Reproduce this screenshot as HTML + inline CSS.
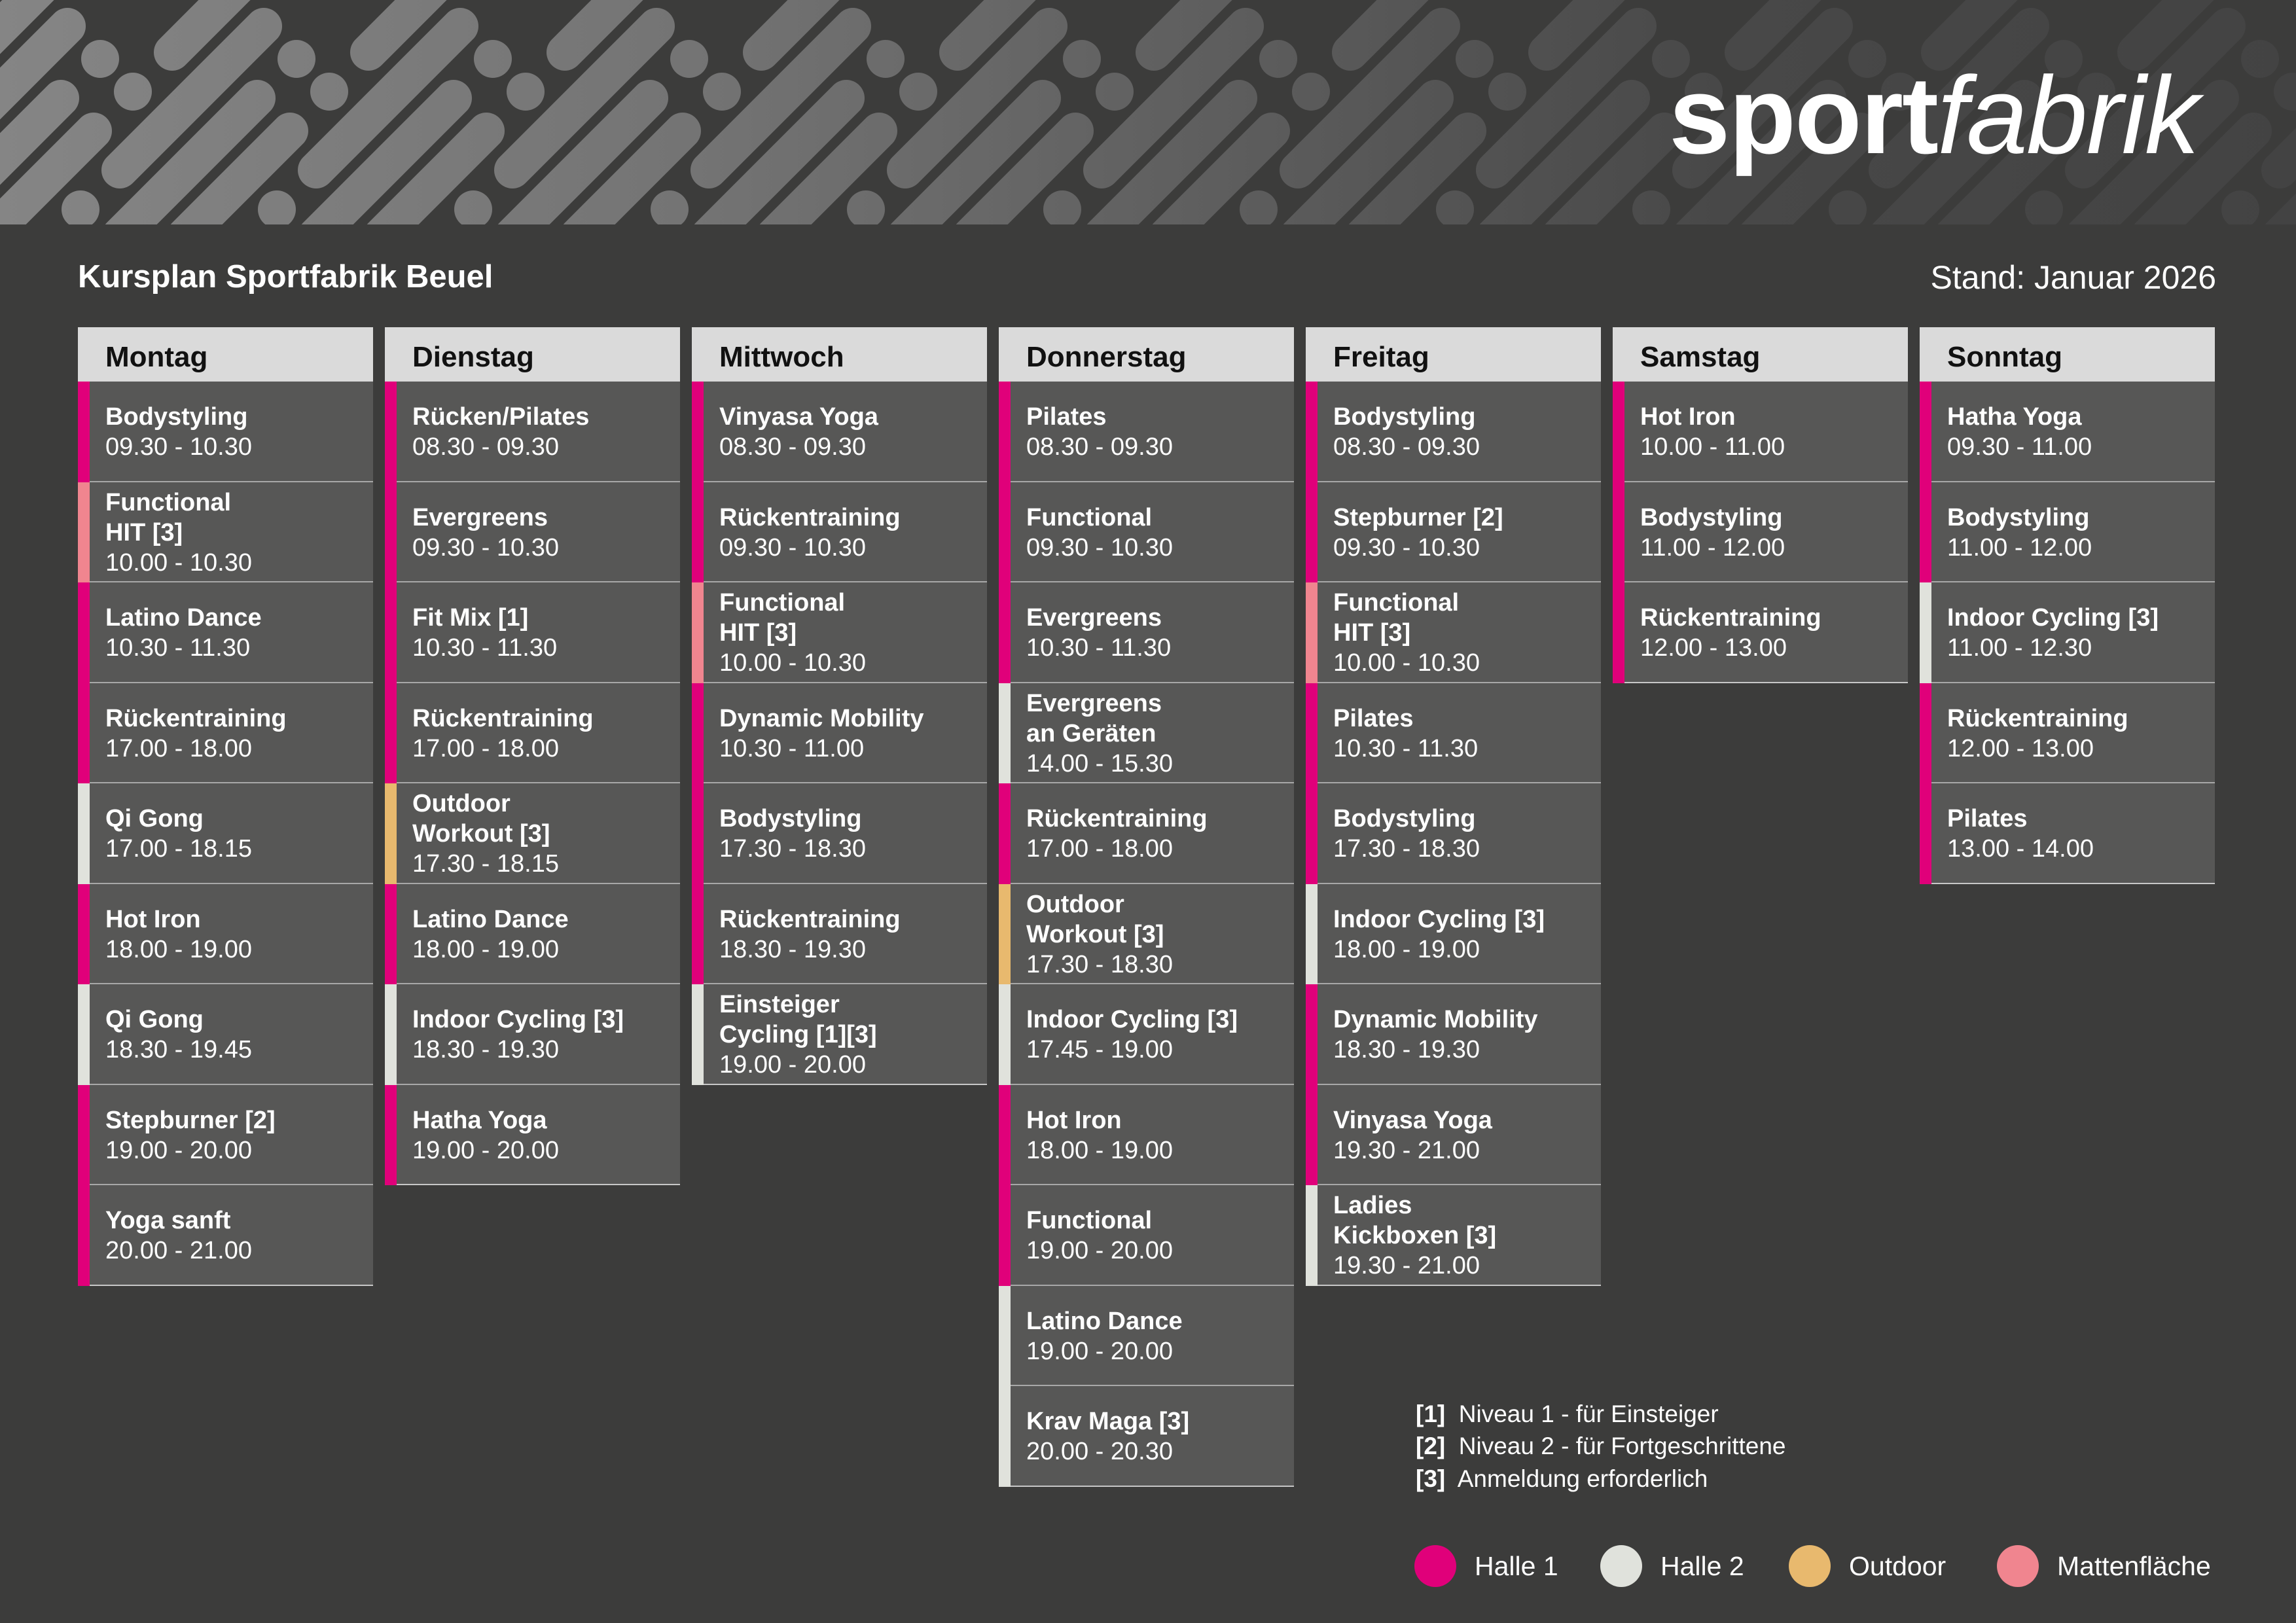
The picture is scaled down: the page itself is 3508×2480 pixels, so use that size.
<!DOCTYPE html>
<html><head><meta charset="utf-8"><style>
*{margin:0;padding:0;box-sizing:border-box}
body{width:3508px;height:2480px;background:#3c3c3b;overflow:hidden;position:relative;font-family:"Liberation Sans",sans-serif;color:#fff}
.col{position:absolute;top:500px;width:451px}
.hd{height:83px;background:#dadada;color:#111;font-weight:bold;font-size:44px;padding-left:42px;line-height:83px;padding-top:4px}
.c{position:relative;height:153.5px;background:#575756;display:flex;flex-direction:column;justify-content:center;padding-left:42px;font-size:38px;line-height:46px;border-bottom:2px solid #a8a8a8;padding-top:3px}
.c::before{content:"";position:absolute;left:0;top:0;bottom:-2px;width:18px;background:var(--b)}
.c b{display:block;font-weight:bold}
.c:last-child{border-bottom-color:#c8c8c8}
.m{--b:#e0007a}.w{--b:#e0e2dc}.o{--b:#e8b96e}.p{--b:#f0858f}
.t{position:absolute;font-size:50px}
.leg{position:absolute;font-size:37px;left:2163px}
.dot{position:absolute;width:64px;height:64px;border-radius:50%;top:2361px}
.lt{position:absolute;top:2370px;font-size:41px}
</style></head><body>
<svg width="3508" height="343" style="position:absolute;left:0;top:0">
<defs>
<linearGradient id="g" x1="0" y1="0" x2="3508" y2="0" gradientUnits="userSpaceOnUse"><stop offset="0" stop-color="#858585"/><stop offset="0.3" stop-color="#747474"/><stop offset="0.55" stop-color="#5c5c5c"/><stop offset="0.75" stop-color="#484848"/><stop offset="1" stop-color="#434343"/></linearGradient>
<pattern id="pt" width="300" height="343" patternUnits="userSpaceOnUse">
<g stroke="#fff" stroke-width="56" stroke-linecap="round" fill="#fff">
<g id="tl">
<line x1="-17" y1="360" x2="143" y2="200"/><circle cx="203" cy="140" r="29" stroke="none"/><line x1="263" y1="80" x2="363" y2="-20"/>
<circle cx="123" cy="320" r="29" stroke="none"/><line x1="183" y1="260" x2="403" y2="40"/>
<line x1="183" y1="360" x2="393" y2="150"/><circle cx="453" cy="90" r="29" stroke="none"/>
</g>
<use href="#tl" x="-300"/><use href="#tl" x="300"/>
</g>
</pattern>
<mask id="mk"><rect width="3508" height="343" fill="url(#pt)"/></mask>
</defs>
<rect width="3508" height="343" fill="#3c3c3b"/>
<rect width="3508" height="343" fill="url(#g)" mask="url(#mk)"/>
</svg>
<div style="position:absolute;left:2550px;top:76px;font-size:168px;line-height:200px;white-space:nowrap;letter-spacing:-2px"><span style="font-weight:bold">sport</span><span style="font-style:italic">fabrik</span></div>
<div class="t" style="left:119px;top:395px;font-weight:bold;font-size:49px">Kursplan Sportfabrik Beuel</div>
<div class="t" style="right:122px;top:395px">Stand: Januar 2026</div>

<div class="col" style="left:119px"><div class="hd">Montag</div>
<div class="c m"><b>Bodystyling</b>09.30 - 10.30</div>
<div class="c p"><b>Functional<br>HIT [3]</b>10.00 - 10.30</div>
<div class="c m"><b>Latino Dance</b>10.30 - 11.30</div>
<div class="c m"><b>Rückentraining</b>17.00 - 18.00</div>
<div class="c w"><b>Qi Gong</b>17.00 - 18.15</div>
<div class="c m"><b>Hot Iron</b>18.00 - 19.00</div>
<div class="c w"><b>Qi Gong</b>18.30 - 19.45</div>
<div class="c m"><b>Stepburner [2]</b>19.00 - 20.00</div>
<div class="c m"><b>Yoga sanft</b>20.00 - 21.00</div>
</div>
<div class="col" style="left:588px"><div class="hd">Dienstag</div>
<div class="c m"><b>Rücken/Pilates</b>08.30 - 09.30</div>
<div class="c m"><b>Evergreens</b>09.30 - 10.30</div>
<div class="c m"><b>Fit Mix [1]</b>10.30 - 11.30</div>
<div class="c m"><b>Rückentraining</b>17.00 - 18.00</div>
<div class="c o"><b>Outdoor<br>Workout [3]</b>17.30 - 18.15</div>
<div class="c m"><b>Latino Dance</b>18.00 - 19.00</div>
<div class="c w"><b>Indoor Cycling [3]</b>18.30 - 19.30</div>
<div class="c m"><b>Hatha Yoga</b>19.00 - 20.00</div>
</div>
<div class="col" style="left:1057px"><div class="hd">Mittwoch</div>
<div class="c m"><b>Vinyasa Yoga</b>08.30 - 09.30</div>
<div class="c m"><b>Rückentraining</b>09.30 - 10.30</div>
<div class="c p"><b>Functional<br>HIT [3]</b>10.00 - 10.30</div>
<div class="c m"><b>Dynamic Mobility</b>10.30 - 11.00</div>
<div class="c m"><b>Bodystyling</b>17.30 - 18.30</div>
<div class="c m"><b>Rückentraining</b>18.30 - 19.30</div>
<div class="c w"><b>Einsteiger<br>Cycling [1][3]</b>19.00 - 20.00</div>
</div>
<div class="col" style="left:1526px"><div class="hd">Donnerstag</div>
<div class="c m"><b>Pilates</b>08.30 - 09.30</div>
<div class="c m"><b>Functional</b>09.30 - 10.30</div>
<div class="c m"><b>Evergreens</b>10.30 - 11.30</div>
<div class="c w"><b>Evergreens<br>an Geräten</b>14.00 - 15.30</div>
<div class="c m"><b>Rückentraining</b>17.00 - 18.00</div>
<div class="c o"><b>Outdoor<br>Workout [3]</b>17.30 - 18.30</div>
<div class="c w"><b>Indoor Cycling [3]</b>17.45 - 19.00</div>
<div class="c m"><b>Hot Iron</b>18.00 - 19.00</div>
<div class="c m"><b>Functional</b>19.00 - 20.00</div>
<div class="c w"><b>Latino Dance</b>19.00 - 20.00</div>
<div class="c w"><b>Krav Maga [3]</b>20.00 - 20.30</div>
</div>
<div class="col" style="left:1995px"><div class="hd">Freitag</div>
<div class="c m"><b>Bodystyling</b>08.30 - 09.30</div>
<div class="c m"><b>Stepburner [2]</b>09.30 - 10.30</div>
<div class="c p"><b>Functional<br>HIT [3]</b>10.00 - 10.30</div>
<div class="c m"><b>Pilates</b>10.30 - 11.30</div>
<div class="c m"><b>Bodystyling</b>17.30 - 18.30</div>
<div class="c w"><b>Indoor Cycling [3]</b>18.00 - 19.00</div>
<div class="c m"><b>Dynamic Mobility</b>18.30 - 19.30</div>
<div class="c m"><b>Vinyasa Yoga</b>19.30 - 21.00</div>
<div class="c w"><b>Ladies<br>Kickboxen [3]</b>19.30 - 21.00</div>
</div>
<div class="col" style="left:2464px"><div class="hd">Samstag</div>
<div class="c m"><b>Hot Iron</b>10.00 - 11.00</div>
<div class="c m"><b>Bodystyling</b>11.00 - 12.00</div>
<div class="c m"><b>Rückentraining</b>12.00 - 13.00</div>
</div>
<div class="col" style="left:2933px"><div class="hd">Sonntag</div>
<div class="c m"><b>Hatha Yoga</b>09.30 - 11.00</div>
<div class="c m"><b>Bodystyling</b>11.00 - 12.00</div>
<div class="c w"><b>Indoor Cycling [3]</b>11.00 - 12.30</div>
<div class="c m"><b>Rückentraining</b>12.00 - 13.00</div>
<div class="c m"><b>Pilates</b>13.00 - 14.00</div>
</div>

<div class="leg" style="top:2140px"><b>[1]</b>&nbsp; Niveau 1 - für Einsteiger</div>
<div class="leg" style="top:2189px"><b>[2]</b>&nbsp; Niveau 2 - für Fortgeschrittene</div>
<div class="leg" style="top:2239px"><b>[3]</b>&nbsp; Anmeldung erforderlich</div>

<div class="dot" style="left:2161px;background:#e0007a"></div><div class="lt" style="left:2253px">Halle 1</div>
<div class="dot" style="left:2445px;background:#e0e2dc"></div><div class="lt" style="left:2537px">Halle 2</div>
<div class="dot" style="left:2733px;background:#e8b96e"></div><div class="lt" style="left:2825px">Outdoor</div>
<div class="dot" style="left:3051px;background:#f0858f"></div><div class="lt" style="left:3143px">Mattenfläche</div>
</body></html>
